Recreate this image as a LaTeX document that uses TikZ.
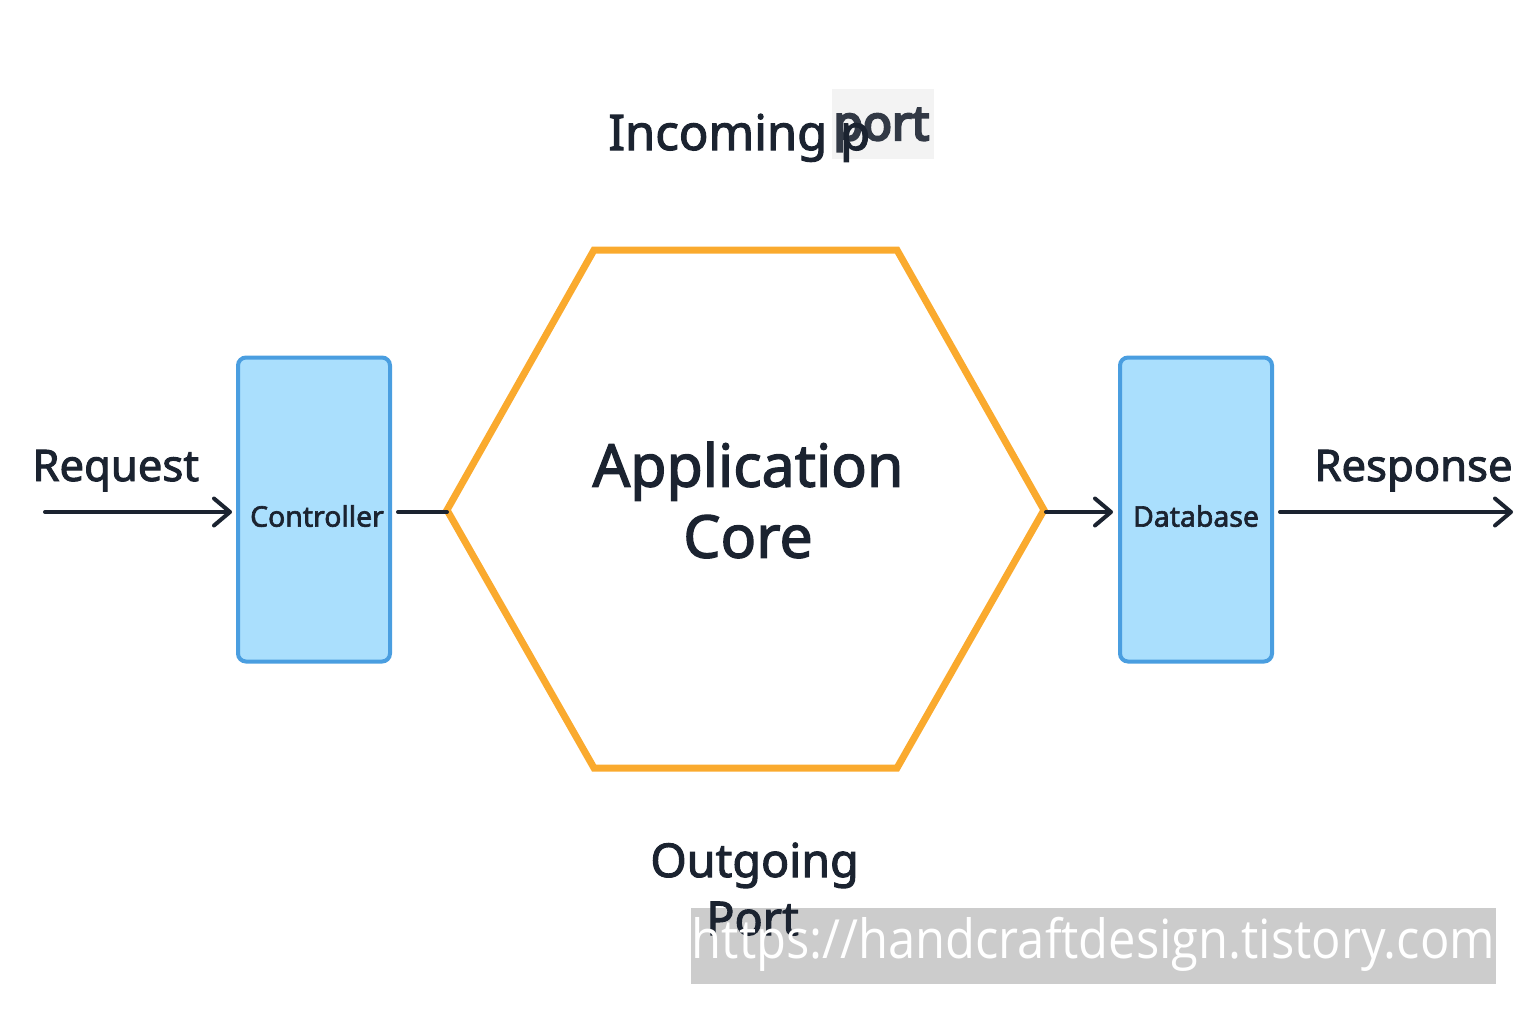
\documentclass[tikz,border=0pt]{standalone}
\usepackage{fontspec}
\setmainfont{Noto Sans}[FakeBold=2.2]
\newfontfamily\heavyfont{Noto Sans}[FakeBold=5]
\newfontfamily\wmfont{Open Sans}
\usetikzlibrary{arrows.meta}
\definecolor{ink}{HTML}{1B2330}
\definecolor{hexorange}{HTML}{FAAA2E}
\definecolor{boxfill}{HTML}{AADFFD}
\definecolor{boxedge}{HTML}{4A9EE0}
\definecolor{portbg}{HTML}{F3F3F3}
\definecolor{wmgrey}{HTML}{CCCCCC}
\tikzset{
  adapter/.style={draw=boxedge, fill=boxfill, line width=2pt, rounded corners=4pt, minimum width=76pt, minimum height=152pt, inner sep=0pt},
  flow/.style={draw=ink, line width=2pt, line cap=round},
  flowarrow/.style={flow, -{Straight Barb[length=8pt, width=13.5pt, line width=2pt, round]}},
  lbl/.style={text=ink, inner sep=0pt},
}
\begin{document}
\begin{tikzpicture}[x=0.5pt,y=-0.5pt]
\useasboundingbox (0,0) rectangle (1536,1024);
% Incoming port label
\node[fill=portbg, minimum width=51pt, minimum height=35pt, inner sep=0pt, anchor=north west] (portbox) at (832,89) {};
\node[lbl, anchor=base west, font=\heavyfont\fontsize{24}{28}\selectfont, text=ink!90] (portword) at (833,140) {port};
\node[lbl, anchor=base west, font=\fontsize{24.5}{28}\selectfont] (incoming) at (608,150) {Incoming p};
% hexagon
\coordinate (h1) at (594,250);
\coordinate (h2) at (897,250);
\coordinate (h3) at (1044,510);
\coordinate (h4) at (897,768);
\coordinate (h5) at (594,768);
\coordinate (h6) at (447,510);
\draw[hexorange, line width=3.5pt, line join=miter] (h1) -- (h2) -- (h3) -- (h4) -- (h5) -- (h6) -- cycle;
\node[lbl, align=center, font=\fontsize{29.5}{35.5}\selectfont] (core) at (748,500) {Application\\Core};
% adapters
\node[adapter] (ctrl) at (314,509.5) {};
\node[lbl, font=\fontsize{14.2}{17}\selectfont] (ctrltext) at (317,516) {Controller};
\node[adapter] (db) at (1196,509.5) {};
\node[lbl, font=\fontsize{14.2}{17}\selectfont] (dbtext) at (1196,516) {Database};
% connectors
\coordinate (reqstart) at (45,512);
\coordinate (respend) at (1513,512);
\draw[flowarrow] (reqstart) -- (232,512);
\draw[flow] (398,512) -- (h6 |- 0,512);
\draw[flowarrow] (1046,512) -- (1113,512);
\draw[flowarrow] (1280,512) -- (respend);
\node[lbl, anchor=base west, font=\fontsize{21.8}{26}\selectfont] (req) at (32,481) {Request};
\node[lbl, anchor=base east, font=\fontsize{21.8}{26}\selectfont] (resp) at (1513,481) {Response};
% outgoing port
\node[lbl, anchor=base west, font=\fontsize{23.3}{28}\selectfont] (outgoing) at (650,877) {Outgoing};
% watermark box
\node[fill=wmgrey, minimum width=402.5pt, minimum height=38pt, inner sep=0pt, anchor=north west] (wm) at (691,908) {};
\node[lbl, anchor=base west, font=\fontsize{23.3}{28}\selectfont] (portout) at (706,935) {Port};
\node[text=white, inner sep=0pt, font=\wmfont\fontsize{27}{30}\selectfont, xscale=0.905] (wmtext) at (1093.5,944) {https://handcraftdesign.tistory.com};
\end{tikzpicture}
\end{document}
